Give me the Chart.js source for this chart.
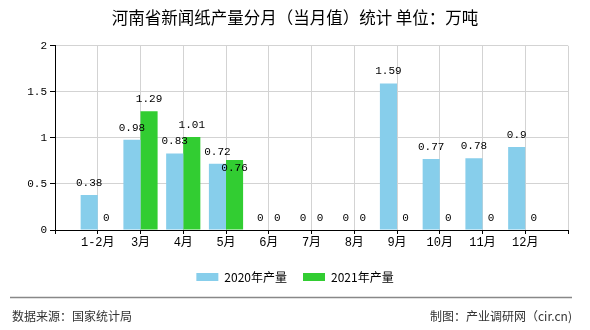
<!DOCTYPE html>
<html>
<head>
<meta charset="utf-8">
<script src="https://cdn.jsdelivr.net/npm/chart.js@4/dist/chart.umd.min.js"></script>
<style>
html,body{margin:0;padding:0;background:#fff;}
#wrap{position:relative;width:590px;height:330px;}
</style>
</head>
<body>
<div id="wrap"><canvas id="c" width="590" height="330"></canvas></div>
<script>
const categories = ['', '1-2月', '3月', '4月', '5月', '6月', '7月', '8月', '9月', '10月', '11月', '12月', ''];
const values2020 = [null, 0.38, 0.98, 0.83, 0.72, 0, 0, 0, 1.59, 0.77, 0.78, 0.9, null];
const values2021 = [null, 0, 1.29, 1.01, 0.76, 0, 0, 0, 0, 0, 0, 0, null];
const seriesNames = ['2020年产量', '2021年产量'];
const yTicks = [0, 0.5, 1, 1.5, 2];
const titleText = '河南省新闻纸产量分月（当月值）统计 单位：万吨';
const sourceText = '数据来源：国家统计局';
const makerText = '制图：产业调研网（cir.cn)';

const MONO = '"Liberation Mono", "Noto Sans CJK SC", monospace';
const CJK = '"Noto Sans CJK SC", sans-serif';

const valueLabels = {
  id: 'valueLabels',
  afterDatasetsDraw(chart) {
    const ctx = chart.ctx;
    ctx.save();
    ctx.font = '11px ' + MONO;
    ctx.fillStyle = '#000';
    ctx.textAlign = 'center';
    ctx.textBaseline = 'middle';
    const m0 = chart.getDatasetMeta(0), m1 = chart.getDatasetMeta(1);
    const d0 = chart.data.datasets[0].data, d1 = chart.data.datasets[1].data;
    for (let i = 0; i < categories.length; i++) {
      let box0 = null;
      if (d0[i] !== null) {
        const el = m0.data[i];
        const t = String(d0[i]);
        const w = ctx.measureText(t).width;
        const y = el.y - 12;
        ctx.fillText(t, el.x, y);
        box0 = {x1: el.x - w / 2, x2: el.x + w / 2, y: y};
      }
      if (d1[i] !== null) {
        const el = m1.data[i];
        const t = String(d1[i]);
        const w = ctx.measureText(t).width;
        let y = el.y - 12;
        if (box0 && el.x - w / 2 < box0.x2 && Math.abs(y - box0.y) < 12) {
          y = el.y + 8;
        }
        ctx.fillText(t, el.x, y);
      }
    }
    ctx.restore();
  }
};

const footer = {
  id: 'footer',
  afterDraw(chart) {
    const ctx = chart.ctx;
    ctx.save();
    ctx.strokeStyle = '#888';
    ctx.lineWidth = 1.5;
    ctx.beginPath();
    ctx.moveTo(10, 297.5);
    ctx.lineTo(572, 297.5);
    ctx.stroke();
    ctx.fillStyle = '#333';
    ctx.font = '12px ' + CJK;
    ctx.textBaseline = 'middle';
    ctx.textAlign = 'left';
    ctx.fillText(sourceText, 12, 316);
    ctx.textAlign = 'right';
    ctx.fillText(makerText, 572, 316);
    ctx.restore();
  }
};

new Chart(document.getElementById('c'), {
  type: 'bar',
  data: {
    labels: categories,
    datasets: [
      {label: seriesNames[0], data: values2020, backgroundColor: '#87CEEB', categoryPercentage: 0.8, barPercentage: 1.0},
      {label: seriesNames[1], data: values2021, backgroundColor: '#32CD32', categoryPercentage: 0.8, barPercentage: 1.0}
    ]
  },
  options: {
    responsive: false,
    animation: false,
    devicePixelRatio: 1,
    layout: {padding: {left: 0, right: 0, top: 0, bottom: 37}},
    plugins: {
      title: {
        display: true,
        text: titleText,
        color: '#000',
        font: {family: CJK, size: 16.5, weight: 'normal'},
        padding: {top: 8, bottom: 18}
      },
      legend: {
        position: 'bottom',
        labels: {
          boxWidth: 22, boxHeight: 8, padding: 16,
          color: '#000',
          font: {family: CJK, size: 12}
        }
      },
      tooltip: {enabled: false}
    },
    scales: {
      x: {
        offset: false,
        grid: {offset: false, color: '#d3d3d3', tickColor: '#000', tickLength: 4, drawTicks: true},
        border: {color: '#000', width: 1},
        ticks: {color: '#000', font: {family: MONO, size: 12}, padding: 2, maxRotation: 0, autoSkip: false},
        afterFit(s) { s.height = 25; }
      },
      y: {
        min: 0, max: 2,
        afterBuildTicks(s) { s.ticks = yTicks.map(v => ({value: v})); },
        grid: {color: '#d3d3d3', tickColor: '#000', tickLength: 5},
        border: {color: '#000', width: 1},
        ticks: {color: '#000', font: {family: MONO, size: 11}, padding: 3, callback: v => String(v)},
        afterFit(s) { s.width = 55; }
      },
      yRight: {
        position: 'right',
        min: 0, max: 2,
        grid: {display: false},
        border: {display: false},
        ticks: {display: false},
        afterFit(s) { s.width = 22; }
      }
    }
  },
  plugins: [valueLabels, footer]
});
</script>
</body>
</html>
